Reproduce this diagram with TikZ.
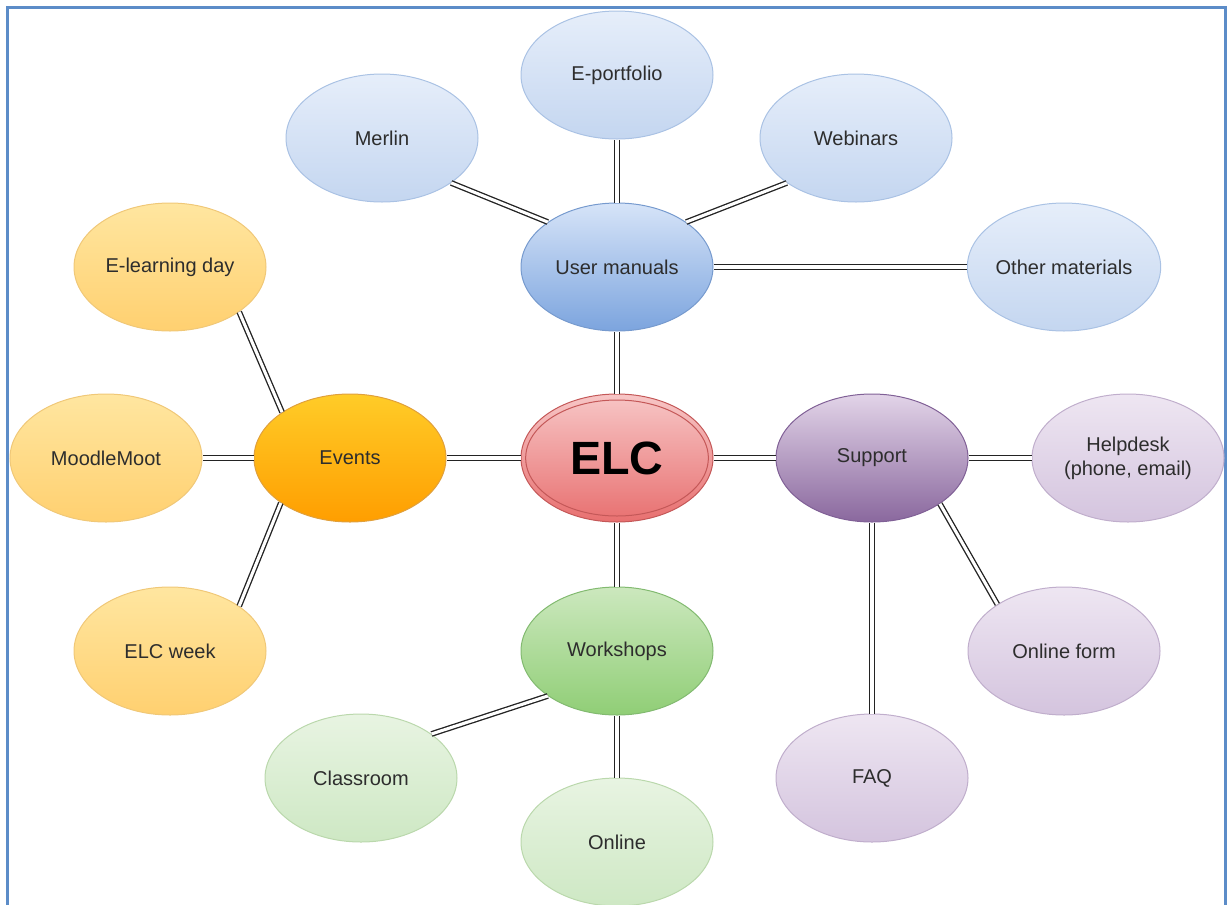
\documentclass[tikz,border=0pt]{standalone}
\usepackage{fontspec}
\setmainfont{Liberation Sans}
\usetikzlibrary{shapes.geometric}
\definecolor{frame}{RGB}{92,140,200}
\definecolor{txt}{RGB}{45,45,45}
\definecolor{lnk}{RGB}{35,35,35}
% ELC
\definecolor{elcT}{RGB}{247,198,198}
\definecolor{elcB}{RGB}{232,112,112}
\definecolor{elcD}{RGB}{196,88,88}
% blue
\definecolor{umT}{RGB}{214,228,248}
\definecolor{umB}{RGB}{124,164,222}
\definecolor{umD}{RGB}{118,154,206}
\definecolor{lbT}{RGB}{230,238,250}
\definecolor{lbB}{RGB}{196,214,240}
\definecolor{lbD}{RGB}{170,194,228}
% orange
\definecolor{evT}{RGB}{255,204,40}
\definecolor{evB}{RGB}{255,158,0}
\definecolor{evD}{RGB}{224,160,60}
\definecolor{loT}{RGB}{255,230,160}
\definecolor{loB}{RGB}{255,208,112}
\definecolor{loD}{RGB}{240,200,120}
% purple
\definecolor{suT}{RGB}{226,212,232}
\definecolor{suB}{RGB}{138,104,158}
\definecolor{suD}{RGB}{128,96,150}
\definecolor{lpT}{RGB}{238,230,242}
\definecolor{lpB}{RGB}{212,196,222}
\definecolor{lpD}{RGB}{192,174,204}
% green
\definecolor{wsT}{RGB}{204,232,190}
\definecolor{wsB}{RGB}{144,206,118}
\definecolor{wsD}{RGB}{130,186,112}
\definecolor{lgT}{RGB}{232,244,226}
\definecolor{lgB}{RGB}{206,232,196}
\definecolor{lgD}{RGB}{186,216,172}
\begin{document}
\begin{tikzpicture}[x=0.75pt,y=-0.75pt,
  bub/.style={ellipse, minimum width=144pt, minimum height=96pt, inner sep=0pt,
    font=\fontsize{15}{18}\selectfont, text=txt, line width=0.75pt, align=center},
  elcnode/.style={bub, top color=elcT, bottom color=elcB, draw=elcD, font=\fontsize{35}{40}\selectfont\bfseries, text=black},
  umnode/.style={bub, top color=umT, bottom color=umB, draw=umD},
  lbnode/.style={bub, top color=lbT, bottom color=lbB, draw=lbD},
  evnode/.style={bub, top color=evT, bottom color=evB, draw=evD},
  lonode/.style={bub, top color=loT, bottom color=loB, draw=loD},
  sunode/.style={bub, top color=suT, bottom color=suB, draw=suD},
  lpnode/.style={bub, top color=lpT, bottom color=lpB, draw=lpD},
  wsnode/.style={bub, top color=wsT, bottom color=wsB, draw=wsD},
  lgnode/.style={bub, top color=lgT, bottom color=lgB, draw=lgD},
  link/.style={draw=lnk, line width=1pt, double=white, double distance=2.3pt}
]
\useasboundingbox (0,0) rectangle (1228,904);
\clip (0,0) rectangle (1228,904);
\draw[frame, line width=2.2pt] (7.5,7.5) rectangle (1225.5,930);

% nodes
\node[elcnode] (elc) at (617,458) {ELC};
\draw[elcD, line width=0.75pt] (elc.center) ellipse (68.5pt and 43.5pt);

\node[umnode] (um) at (617,267) {User manuals};
\node[lbnode] (ep) at (617,75) {E-portfolio};
\node[lbnode] (me) at (382,138) {Merlin};
\node[lbnode] (we) at (856,138) {Webinars};
\node[lbnode] (om) at (1064,267) {Other materials};

\node[evnode] (ev) at (350,458) {Events};
\node[lonode] (ed) at (170,267) {E-learning day};
\node[lonode] (mm) at (106,458) {MoodleMoot};
\node[lonode] (ew) at (170,651) {ELC week};

\node[sunode] (su) at (872,458) {Support};
\node[lpnode] (hd) at (1128,458) {Helpdesk\\(phone, email)};
\node[lpnode] (of) at (1064,651) {Online form};
\node[lpnode] (fq) at (872,778) {FAQ};

\node[wsnode] (ws) at (617,651) {Workshops};
\node[lgnode] (cl) at (361,778) {Classroom};
\node[lgnode] (on) at (617,842) {Online};

% connectors
\draw[link] (elc) -- (um);
\draw[link] (um) -- (ep);
\draw[link] (um.147) -- (me.-33.5);
\draw[link] (um.33.5) -- (we.213.5);
\draw[link] (um) -- (om);

\draw[link] (elc) -- (ev);
\draw[link] (ev.146) -- (ed.-33.5);
\draw[link] (ev) -- (mm);
\draw[link] (ev.213.5) -- (ew.33.5);

\draw[link] (elc) -- (su);
\draw[link] (su) -- (hd);
\draw[link] (su.-34.5) -- (of.145.5);
\draw[link] (su) -- (fq);

\draw[link] (elc) -- (ws);
\draw[link] (ws.213) -- (cl.32.5);
\draw[link] (ws) -- (on);
\end{tikzpicture}
\end{document}
